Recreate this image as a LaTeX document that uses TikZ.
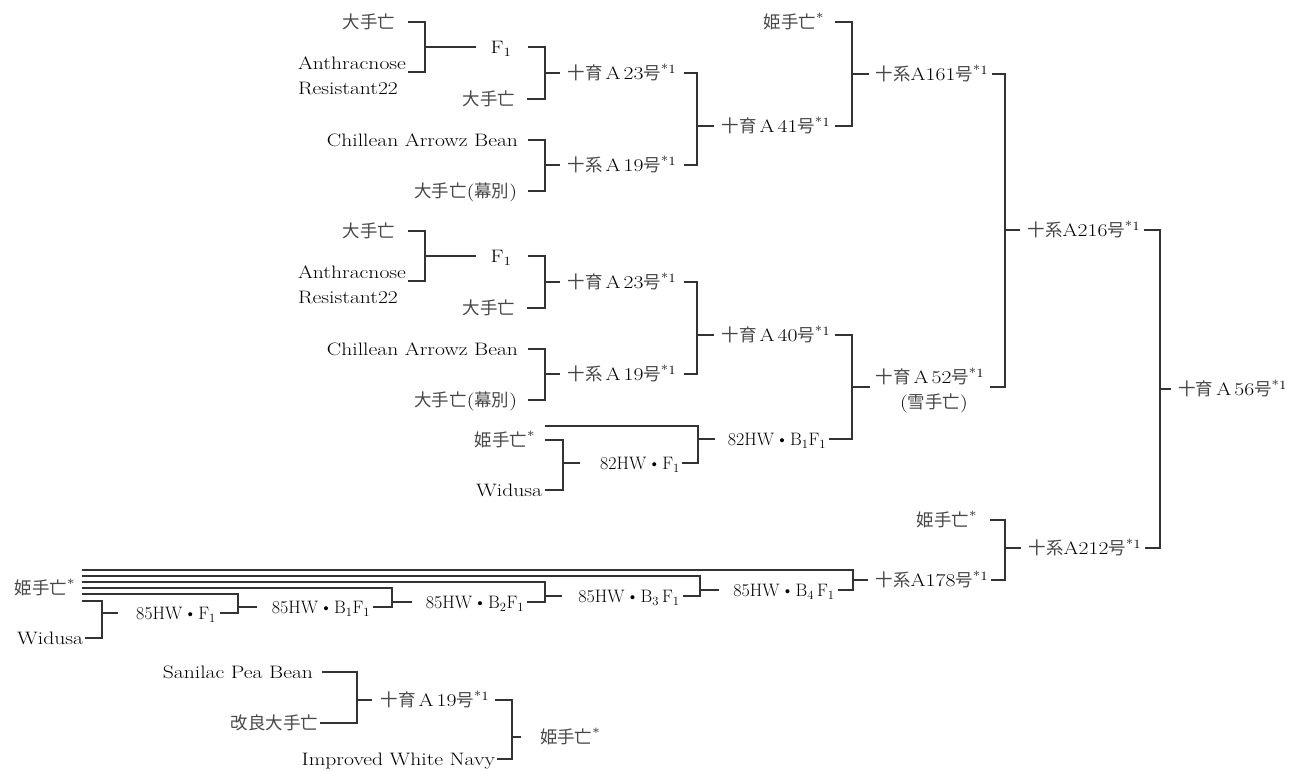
\documentclass[tikz,border=0pt]{standalone}
\usepackage{fontspec}
\setmainfont{Latin Modern Roman}[FakeStretch=1.2]
\newfontfamily\hwfont{Latin Modern Roman}[FakeStretch=1.0]
\newfontfamily\cjkfont{Noto Sans CJK JP}[Scale=0.97]
\newcommand\jpn[1]{{\cjkfont\color{black!72}#1}}
\newcommand\nsup[1]{\textsuperscript{#1}}
\newcommand\hw[1]{\hwfont #1HW\kern1.5pt\textbullet\kern1.5pt}
\begin{document}
\begin{tikzpicture}[x=1pt,y=-1pt,
  lab/.style={inner sep=0pt, outer sep=0pt, text height=13pt, text depth=0pt,
              text=black, font=\fontsize{18}{21}\selectfont},
  ln/.style={line width=1.3pt, draw=black!80, line cap=butt}]
\useasboundingbox (0,0) rectangle (1290,771);

% ---- two identical upper pedigrees (Daitebou x Anthracnose Resistant22 etc.)
\foreach \dy/\s in {0/a,209/b}{
  \begin{scope}[shift={(0,\dy)}]
    \node[lab,anchor=east] (big1\s) at (395,22) {\jpn{大手亡}};
    \node[lab,anchor=west] (anth\s) at (298,63) {Anthracnose};
    \node[lab,anchor=west] (res\s) at (298,88) {Resistant22};
    \node[lab] (fa\s) at (501,47) {F\textsubscript{1}};
    \node[lab,anchor=east] (big2\s) at (515,99) {\jpn{大手亡}};
    \node[lab] (x23\s) at (622,73) {\jpn{十育}\,A\,23\jpn{号}\nsup{*1}};
    \node[lab,anchor=east] (chil\s) at (518,140) {Chillean Arrowz Bean};
    \node[lab,anchor=east] (mak\s) at (517,191) {\jpn{大手亡}(\jpn{幕別})};
    \node[lab] (x19\s) at (622,165) {\jpn{十系}\,A\,19\jpn{号}\nsup{*1}};
    \coordinate (ae\s) at (408,72);
    \coordinate (ja\s) at (425,47);
    \coordinate (jb\s) at (545,73);
    \coordinate (jc\s) at (545,165);
    \coordinate (jd\s) at (697,126);
    \draw[ln] ([xshift=13pt]big1\s.east) -| (ja\s) |- (ae\s);
    \draw[ln] (ja\s) -- ([xshift=-15pt]fa\s.west);
    \draw[ln] ([xshift=17pt]fa\s.east) -| (jb\s) |- ([xshift=12pt]big2\s.east);
    \draw[ln] (jb\s) -- ([xshift=-8pt]x23\s.west);
    \draw[ln] ([xshift=10pt]chil\s.east) -| (jc\s) |- ([xshift=11pt]mak\s.east);
    \draw[ln] (jc\s) -- ([xshift=-8pt]x19\s.west);
    \draw[ln] ([xshift=8pt]x23\s.east) -| (jd\s) |- ([xshift=8pt]x19\s.east);
  \end{scope}
}

% ---- upper right
\node[lab] (x41) at (776,126) {\jpn{十育}\,A\,41\jpn{号}\nsup{*1}};
\node[lab,anchor=east] (hime1) at (824,22) {\jpn{姫手亡}\nsup{*}};
\node[lab] (x161) at (932,74) {\jpn{十系}A161\jpn{号}\nsup{*1}};
\coordinate (je) at (852,74);
\draw[ln] (jda) -- ([xshift=-8pt]x41.west);
\draw[ln] ([xshift=11pt]hime1.east) -| (je) |- ([xshift=5pt]x41.east);
\draw[ln] (je) -- ([xshift=-7pt]x161.west);

\node[lab] (x40) at (776,335) {\jpn{十育}\,A\,40\jpn{号}\nsup{*1}};
\node[lab] (b82) at (777,439) {\hw{82}B\textsubscript{1}F\textsubscript{1}};
\node[lab] (x52) at (930,377) {\jpn{十育}\,A\,52\jpn{号}\nsup{*1}};
\node[lab] (yuki) at (934,402) {(\jpn{雪手亡})};
\coordinate (jg) at (852,387);
\coordinate (k52) at (990,387);
\draw[ln] (jdb) -- ([xshift=-8pt]x40.west);
\draw[ln] ([xshift=5pt]x40.east) -| (jg) |- ([xshift=3pt]b82.east);
\draw[ln] (jg) -- ++(18,0);

\node[lab] (x216) at (1084,230) {\jpn{十系}A216\jpn{号}\nsup{*1}};
\coordinate (jf) at (1005,230);
\draw[ln] ([xshift=4pt]x161.east) -| (jf) |- (k52);
\draw[ln] (jf) -- ([xshift=-8pt]x216.west);

\node[lab,anchor=east] (x56) at (1287,389) {\jpn{十育}\,A\,56\jpn{号}\nsup{*1}};
\node[lab] (x212) at (1085,548) {\jpn{十系}A212\jpn{号}\nsup{*1}};
\coordinate (jh) at (1160,389);
\draw[ln] ([xshift=4pt]x216.east) -| (jh) |- ([xshift=4pt]x212.east);
\draw[ln] (jh) -- ([xshift=-8pt]x56.west);

\node[lab,anchor=east] (hime3) at (977,520) {\jpn{姫手亡}\nsup{*}};
\node[lab] (x178) at (932,580) {\jpn{十系}A178\jpn{号}\nsup{*1}};
\coordinate (ji) at (1005,548);
\draw[ln] ([xshift=13pt]hime3.east) -| (ji) |- ([xshift=3pt]x178.east);
\draw[ln] (ji) -- ([xshift=-8pt]x212.west);

% ---- 82HW backcross
\node[lab,anchor=east] (hime2) at (535,440) {\jpn{姫手亡}\nsup{*}};
\node[lab,anchor=east] (wid1) at (542,490) {Widusa};
\node[lab] (f82) at (640,463) {\hw{82}F\textsubscript{1}};
\coordinate (jj) at (563,463);
\coordinate (jk) at (698,439);
\draw[ln] ([xshift=10pt]hime2.east) -| (jj) |- ([xshift=3pt]wid1.east);
\draw[ln] (jj) -- ([xshift=-20pt]f82.west);
\draw[ln] ([shift={(10pt,14pt)}]hime2.east) -| (jk) |- ([xshift=2pt]f82.east);
\draw[ln] (jk) -- ([xshift=-13pt]b82.west);

% ---- 85HW repeated backcrosses
\node[lab,anchor=east] (hime4) at (75,588) {\jpn{姫手亡}\nsup{*}};
\node[lab,anchor=east] (wid2) at (83,638) {Widusa};
\node[lab] (h85a) at (176,613) {\hw{85}F\textsubscript{1}};
\node[lab] (h85b) at (321,607) {\hw{85}B\textsubscript{1}F\textsubscript{1}};
\node[lab] (h85c) at (475,602) {\hw{85}B\textsubscript{2}F\textsubscript{1}};
\node[lab] (h85d) at (629,596) {\hw{85}B\textsubscript{3}\,F\textsubscript{1}};
\node[lab] (h85e) at (784,590) {\hw{85}B\textsubscript{4}\,F\textsubscript{1}};
\coordinate (m1) at (102,613);
\coordinate (m2) at (238,607);
\coordinate (m3) at (392,602);
\coordinate (m4) at (545,596);
\coordinate (m5) at (700,590);
\coordinate (m6) at (853,580);
\draw[ln] ([shift={(7pt,-13pt)}]hime4.east) -| (m1) |- ([xshift=2pt]wid2.east);
\draw[ln] (m1) -- ([xshift=-18pt]h85a.west);
\draw[ln] ([shift={(7pt,-6pt)}]hime4.east) -| (m2) |- ([xshift=4pt]h85a.east);
\draw[ln] (m2) -- ([xshift=-15pt]h85b.west);
\draw[ln] ([xshift=7pt]hime4.east) -| (m3) |- ([xshift=3pt]h85b.east);
\draw[ln] (m3) -- ([xshift=-14pt]h85c.west);
\draw[ln] ([shift={(7pt,6pt)}]hime4.east) -| (m4) |- ([xshift=3pt]h85c.east);
\draw[ln] (m4) -- ([xshift=-16pt]h85d.west);
\draw[ln] ([shift={(7pt,12pt)}]hime4.east) -| (m5) |- ([xshift=3pt]h85d.east);
\draw[ln] (m5) -- ([xshift=-14pt]h85e.west);
\draw[ln] ([shift={(7pt,18pt)}]hime4.east) -| (m6) |- ([xshift=3pt]h85e.east);
\draw[ln] (m6) -- ([xshift=-8pt]x178.west);

% ---- origin of Himetebou
\node[lab,anchor=east] (san) at (313,672) {Sanilac Pea Bean};
\node[lab,anchor=east] (kai) at (318,723) {\jpn{改良大手亡}};
\node[lab] (x19c) at (435,700) {\jpn{十育}\,A\,19\jpn{号}\nsup{*1}};
\node[lab,anchor=east] (iwn) at (495,759) {Improved White Navy};
\node[lab,anchor=west] (hime5) at (540,737) {\jpn{姫手亡}\nsup{*}};
\coordinate (q1) at (357,700);
\coordinate (q2) at (512,737);
\draw[ln] ([xshift=9pt]san.east) -| (q1) |- ([xshift=2pt]kai.east);
\draw[ln] (q1) -- ([xshift=-9pt]x19c.west);
\draw[ln] ([xshift=6pt]x19c.east) -| (q2) |- ([xshift=2pt]iwn.east);
\draw[ln] (q2) -- ([xshift=-19pt]hime5.west);
\end{tikzpicture}
\end{document}
